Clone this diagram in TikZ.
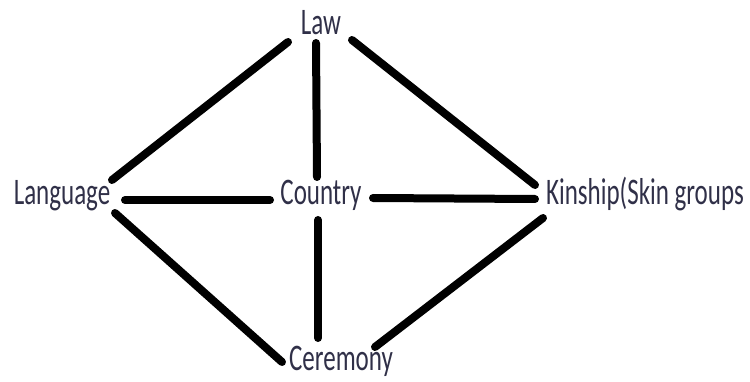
\documentclass[tikz,border=0pt]{standalone}
\usepackage{fontspec}
\setmainfont{Carlito}
\usepackage{graphicx}
\usetikzlibrary{calc}
\definecolor{txt}{RGB}{48,48,72}
\tikzset{
  lbl/.style={anchor=base, inner sep=0pt, text=txt, font=\fontsize{25}{25}\selectfont},
  link/.style={line width=8pt, line cap=round, black}
}
\newcommand{\tall}[1]{\scalebox{1}[1.5]{#1}}
\begin{document}
\begin{tikzpicture}[x=1pt,y=-1pt]
\useasboundingbox (0,0) rectangle (750,382);
\node[lbl] (law) at (321,35) {\tall{Law}};
\node[lbl] (lang) at (62,205) {\tall{Language}};
\node[lbl] (country) at (321,205) {\tall{Country}};
\node[lbl] (kin) at (645,205) {\tall{Kinship(Skin groups}};
\node[lbl] (cer) at (341,370) {\tall{Ceremony}};
\draw[link] ($(law.base)+(-33,7)$) -- ($(lang.base)+(50,-25)$);
\draw[link] ($(law.base)+(-5,8)$) -- ($(country.base)+(-4,-28)$);
\draw[link] ($(law.base)+(31,5)$) -- ($(kin.base)+(-110,-20)$);
\draw[link] ($(lang.base)+(63,-5)$) -- ($(country.base)+(-51,-5)$);
\draw[link] ($(country.base)+(52,-7)$) -- ($(kin.base)+(-110,-6)$);
\draw[link] ($(country.base)+(-3,15)$) -- ($(cer.base)+(-23,-32)$);
\draw[link] ($(lang.base)+(53,8)$) -- ($(cer.base)+(-59,-8)$);
\draw[link] ($(kin.base)+(-102,13)$) -- ($(cer.base)+(34,-23)$);
\end{tikzpicture}
\end{document}
